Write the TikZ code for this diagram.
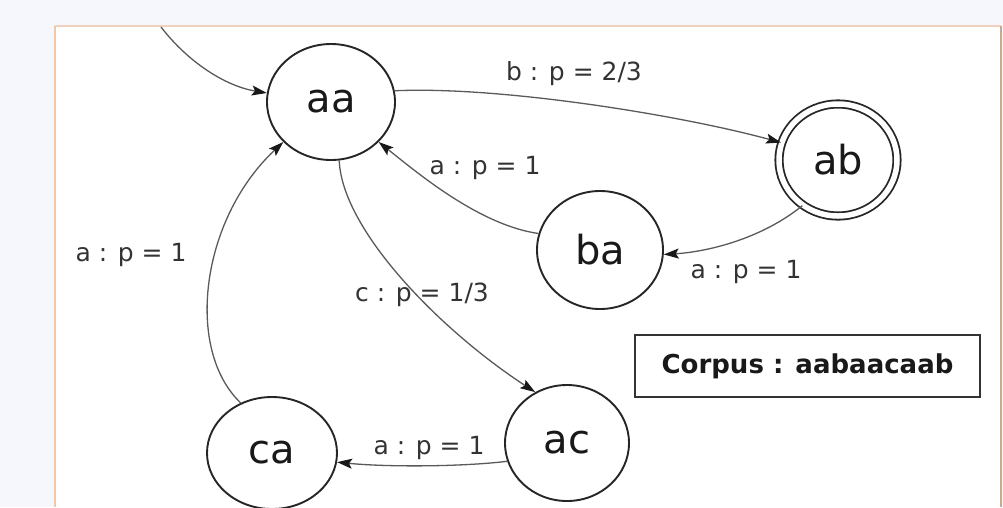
\documentclass[tikz,border=0pt]{standalone}
\usepackage{fontspec}
\setmainfont{DejaVu Sans}
\usetikzlibrary{shapes.geometric,arrows.meta}
\definecolor{pagebg}{HTML}{F5F7FD}
\definecolor{toprule}{HTML}{F0D2BC}
\definecolor{leftrule}{HTML}{F3C8A2}
\definecolor{rightrule}{HTML}{C9AA8E}
\definecolor{edgecol}{HTML}{5A5A5A}
\definecolor{statecol}{HTML}{262626}
\definecolor{labcol}{HTML}{333333}
\tikzset{
  state/.style={ellipse,draw=statecol,line width=1.9pt,inner sep=0pt,
    font=\fontsize{40}{40}\selectfont,text=black!90},
  trans/.style={draw=edgecol,line width=1.3pt,
    -{Stealth[length=15pt,width=10pt,inset=3pt,color=black!90]}},
  lab/.style={text=labcol,font=\fontsize{25}{25}\selectfont,inner sep=0pt},
}
\begin{document}
\begin{tikzpicture}[x=1pt,y=-1pt]
\useasboundingbox (0,0) rectangle (1003,507);
\fill[pagebg] (0,0) rectangle (1003,507);
\fill[white] (55,26) rectangle (1001,507);
\draw[toprule,line width=1.5pt] (55,26) -- (1001,26);
\draw[leftrule,line width=1.5pt] (55,26) -- (55,507);
\draw[rightrule,line width=1.5pt] (1001,26) -- (1001,507);

\node[state,minimum width=128pt,minimum height=116pt] (aa) at (331,102) {aa};
\node[state,double,double distance=5.5pt,line width=1.8pt,minimum width=118pt,minimum height=112pt] (ab) at (838,160) {ab};
\node[state,minimum width=126pt,minimum height=118pt] (ba) at (600,250) {ba};
\node[state,minimum width=124pt,minimum height=116pt] (ac) at (567,443) {ac};
\node[state,minimum width=130pt,minimum height=112pt] (ca) at (272,453) {ca};

\node[draw=labcol,line width=1.9pt,minimum width=345pt,minimum height=62pt,
  font=\bfseries\fontsize{26}{26}\selectfont,text=black!90] (corpus) at (807.5,366) {Corpus : aabaacaab};

\coordinate (init) at (161,27);
\draw[trans] (init) .. controls (188,62) and (225,86) .. (aa.172);
\draw[trans] (aa.10) .. controls (500,86) and (680,115) .. (ab.163);
\draw[trans] (ba.165) .. controls (480,225) and (420,175) .. (aa.-40);
\draw[trans] (ab.-128) .. controls (760,240) and (705,252) .. (ba.-4);
\draw[trans] (aa.-82) .. controls (342,230) and (440,330) .. (ac.122);
\draw[trans] (ac.-163) .. controls (460,467) and (385,467) .. (ca.-8);
\draw[trans] (ca.122) .. controls (185,350) and (200,220) .. (aa.-140);

\node[lab] (l1) at (574,74) {b : p = 2/3};
\node[lab] (l2) at (485,168) {a : p = 1};
\node[lab] (l3) at (746,272) {a : p = 1};
\node[lab] (l4) at (131,255) {a : p = 1};
\node[lab] (l5) at (422,295) {c : p = 1/3};
\node[lab] (l6) at (429,448) {a : p = 1};
\end{tikzpicture}
\end{document}
